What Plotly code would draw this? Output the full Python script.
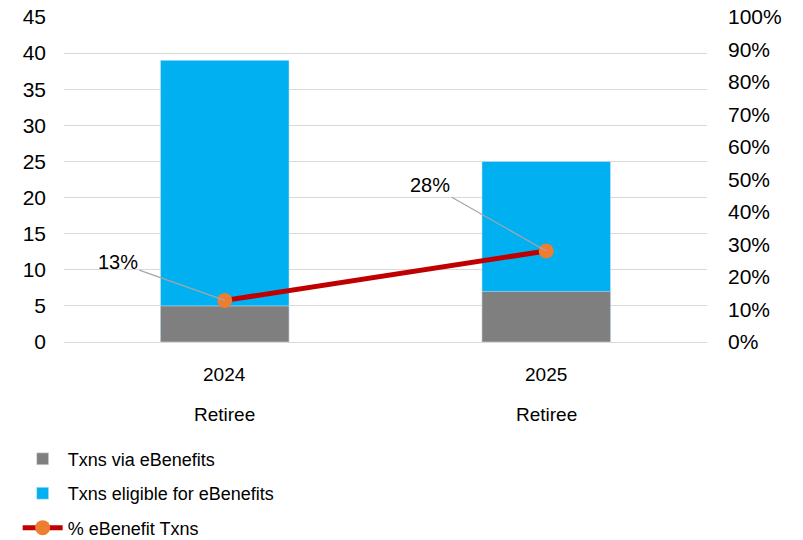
import plotly.graph_objects as go

categories = ["2024", "2025"]
group_labels = ["Retiree", "Retiree"]
eligible = [39, 25]
via_ebenefits = [5, 7]
pct = [0.128, 0.28]
pct_labels = ["13%", "28%"]

BASE = "Liberation Sans, Arial, sans-serif"

fig = go.Figure()
fig.add_trace(go.Bar(x=categories, y=eligible, name="Txns eligible for eBenefits",
                     marker_color="#00B0F0", width=0.4, legendrank=2, legendgroup="b"))
fig.add_trace(go.Bar(x=categories, y=via_ebenefits, name="Txns via eBenefits",
                     marker_color="#7F7F7F", width=0.4, legendrank=1, legendgroup="a"))
fig.add_trace(go.Scatter(x=categories, y=pct, name="% eBenefit Txns", yaxis="y2",
                         mode="lines+markers",
                         line=dict(color="#C00000", width=5),
                         marker=dict(color="#ED7D31", size=15),
                         legendrank=3, legendgroup="c"))

offsets = [(-107, -38), (-116, -66)]
for i, (v, t, (ax, ay)) in enumerate(zip(pct, pct_labels, offsets)):
    fig.add_annotation(x=i, y=v, yref="y2", text=t, showarrow=True, arrowhead=0,
                       arrowwidth=1.3, arrowcolor="#A6A6A6", ax=ax, ay=ay,
                       standoff=0, font=dict(family=BASE, size=20, color="#000"))

for i, (c, g) in enumerate(zip(categories, group_labels)):
    fig.add_annotation(x=i, y=0, yref="paper", text=c, showarrow=False, yshift=-32,
                       yanchor="middle", font=dict(family=BASE, size=19, color="#000"))
    fig.add_annotation(x=i, y=0, yref="paper", text=g, showarrow=False, yshift=-72,
                       yanchor="middle", font=dict(family=BASE, size=19, color="#000"))

fig.update_layout(
    width=803, height=540,
    margin=dict(l=64, r=96, t=17, b=198, autoexpand=False),
    paper_bgcolor="white", plot_bgcolor="white",
    barmode="overlay",
    font=dict(family=BASE, size=21, color="#000"),
    xaxis=dict(type="category", range=[-0.5, 1.5], showticklabels=False, showgrid=False,
               showline=True, linecolor="#D9D9D9", ticks="", zeroline=False,
               automargin=False),
    yaxis=dict(range=[0, 45], dtick=5, showgrid=True, gridcolor="#D9D9D9",
               gridwidth=1.3, zeroline=False, ticks="", tickfont=dict(size=21),
               ticklabelstandoff=17, automargin=False),
    yaxis2=dict(range=[0, 1], dtick=0.1, tickformat=".0%", overlaying="y",
                side="right", showgrid=False, zeroline=False, tickfont=dict(size=21),
                ticklabelstandoff=20, automargin=False),
    legend=dict(x=0.022, y=0.184, xref="container", yref="container",
                xanchor="left", yanchor="top",
                font=dict(family=BASE, size=18, color="#000"),
                tracegroupgap=8, itemwidth=40, bgcolor="rgba(0,0,0,0)"),
    showlegend=True,
)

fig.write_html("out.html")
